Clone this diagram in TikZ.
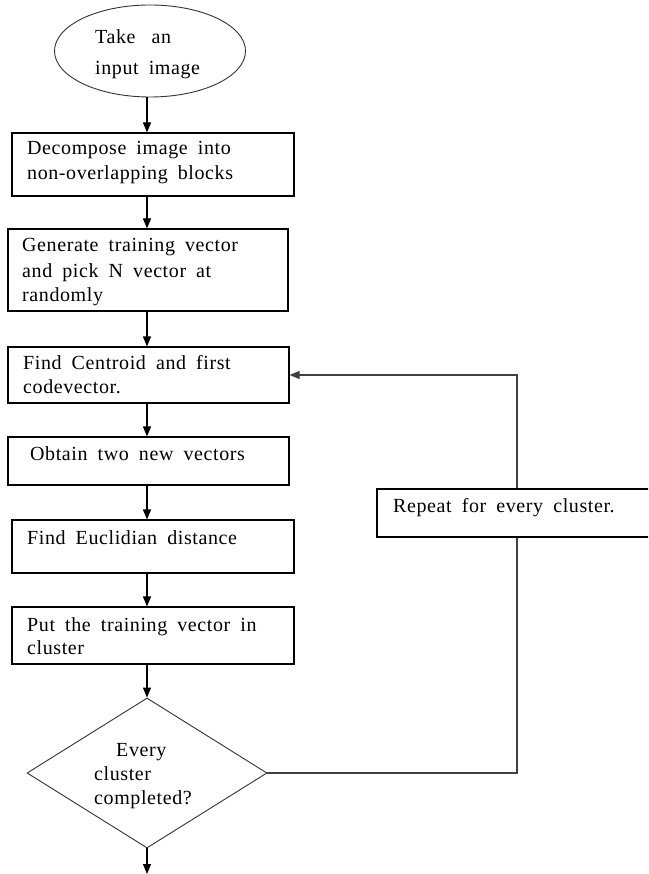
\documentclass[tikz,border=0pt]{standalone}
\usepackage{fontspec}
\setmainfont{Liberation Serif}[LetterSpace=3,WordSpace=1.8]
\usetikzlibrary{shapes.geometric,arrows.meta}
\begin{document}
\begin{tikzpicture}[x=1pt,y=-1pt,
  every node/.style={font=\fontsize{20}{24}\selectfont},
  boxn/.style={draw=black,line width=1.1pt,fill=white,rectangle,inner sep=0pt},
  lbl/.style={anchor=base west,inner sep=0pt,text=black},
  arr/.style={draw=black,line width=1.1pt,-{Triangle[length=10pt,width=8pt]}}]
\clip (0,0) rectangle (648,874);
\fill[white] (0,0) rectangle (648,874);
% shapes
\node[draw=black!80,line width=0.9pt,ellipse,inner sep=0pt,minimum width=191pt,minimum height=92pt] (e) at (150,51) {};
\node[boxn,minimum width=282pt,minimum height=63pt] (b1) at (153,164.5) {};
\node[boxn,minimum width=280pt,minimum height=82pt] (b2) at (148,270) {};
\node[boxn,minimum width=281pt,minimum height=56pt] (b3) at (148.5,375) {};
\node[boxn,minimum width=281pt,minimum height=48pt] (b4) at (148.5,461) {};
\node[boxn,minimum width=282pt,minimum height=53pt] (b5) at (153,546.5) {};
\node[boxn,minimum width=282pt,minimum height=57pt] (b6) at (153,635.5) {};
\node[draw=black!80,line width=0.9pt,diamond,inner sep=0pt,minimum width=240pt,minimum height=150pt] (d) at (147,773) {};
\coordinate (spine) at (147,0);
\coordinate (fin) at (147,874);
\coordinate (loopc) at (517,773);
% connectors
\draw[arr] (e.south -| spine) -- (b1.north -| spine);
\draw[arr] (b1.south -| spine) -- (b2.north -| spine);
\draw[arr] (b2.south -| spine) -- (b3.north -| spine);
\draw[arr] (b3.south -| spine) -- (b4.north -| spine);
\draw[arr] (b4.south -| spine) -- (b5.north -| spine);
\draw[arr] (b5.south -| spine) -- (b6.north -| spine);
\draw[arr] (b6.south -| spine) -- (d.north);
\draw[arr] (d.south) -- (fin);
\draw[arr,draw=black!75] (d.east) -- (loopc) |- (b3.east);
\node[boxn,minimum width=274pt,minimum height=48pt] (rep) at (514,513) {};
% texts
\node[lbl] (t1) at (95,44) {Take\hspace{16pt}an};
\node[lbl] (t2) at (95,75) {input image};
\node[lbl] (t3) at (27,155) {Decompose image into};
\node[lbl] (t4) at (27,180) {non-overlapping blocks};
\node[lbl] (t5) at (22,252) {Generate training vector};
\node[lbl] (t6) at (22,277) {and pick N vector at};
\node[lbl] (t7) at (22,301) {randomly};
\node[lbl] (t8) at (23,369) {Find Centroid and first};
\node[lbl] (t9) at (23,393) {codevector.};
\node[lbl] (t10) at (30,460) {Obtain two new vectors};
\node[lbl] (t11) at (27,544) {Find Euclidian distance};
\node[lbl] (t12) at (27,631) {Put the training vector in};
\node[lbl] (t13) at (27,654) {cluster};
\node[lbl] (t14) at (116,756) {Every};
\node[lbl] (t15) at (94,780) {cluster};
\node[lbl] (t16) at (94,804) {completed?};
\node[lbl] (t17) at (393,512) {Repeat for every cluster.};
\end{tikzpicture}
\end{document}
